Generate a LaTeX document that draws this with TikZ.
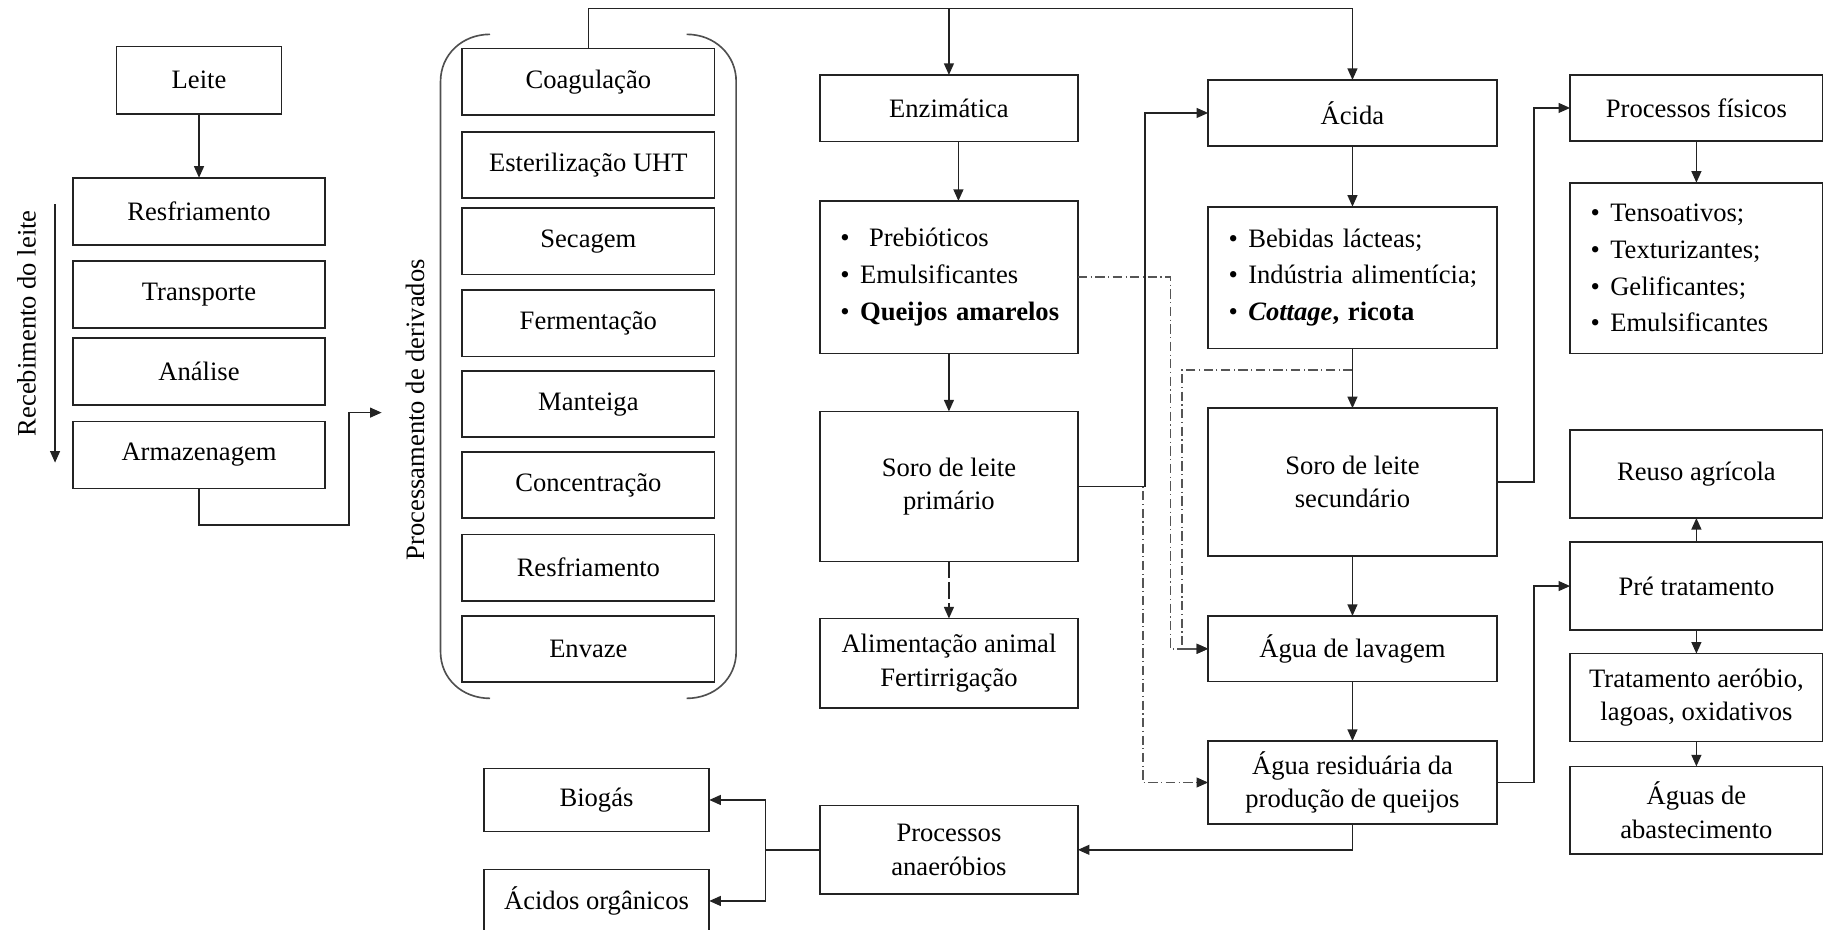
\documentclass[tikz,border=0pt]{standalone}
\usepackage{fontspec}
\setmainfont{Liberation Serif}
\usetikzlibrary{arrows.meta,positioning}
\definecolor{contorno}{RGB}{35,35,35}
\definecolor{tracocinza}{RGB}{85,85,85}
\newcommand{\marcador}[1]{\mbox{\makebox[0.34cm][l]{\textbullet}#1}}

\begin{document}
\begin{tikzpicture}[
  x=0.02cm, y=-0.02cm,
  font=\fontsize{13}{16.3}\selectfont,
  seta/.style={-{Triangle[length=0.2cm, width=0.17cm]}, line width=0.8pt, draw=contorno},
  setaponto/.style={-{Triangle[length=0.2cm, width=0.17cm, color=contorno]}, draw=tracocinza, line width=0.7pt,
    dash pattern=on 0.16cm off 0.06cm on 0.02cm off 0.06cm},
  tracejada/.style={dash pattern=on 0.28cm off 0.08cm},
  chave/.style={draw=contorno!80, line width=0.8pt},
  caixa/.style={draw=contorno, line width=0.8pt, fill=white, align=center, inner sep=2pt, outer sep=0pt},
  caixaA/.style={caixa, minimum width=4.34cm, minimum height=1.154cm},
  caixaB/.style={caixa, minimum width=4.34cm, minimum height=1.14cm},
  caixaC/.style={caixa, minimum width=4.43cm},
  caixaD/.style={caixa, minimum width=4.96cm},
  caixaE/.style={caixa, minimum width=4.34cm},
  lista/.style={caixa, align=left, font=\fontsize{13}{18}\selectfont, inner xsep=0.35cm}
]
\useasboundingbox (0,0) rectangle (1568,799);
\clip (0,0) rectangle (1568,799);

% recebimento do leite
\node[caixaA, minimum width=2.84cm] (leite) at (171,68.9) {Leite};
\node[caixaA, below=1.1cm of leite] (resfA) {Resfriamento};
\node[caixaA, below=0.276cm of resfA] (transporte) {Transporte};
\node[caixaA, below=0.172cm of transporte] (analise) {Análise};
\node[caixaA, below=0.276cm of analise] (armazenagem) {Armazenagem};
\node[rotate=90] (recebimento) at (22.9,277.8) {Recebimento do leite};
\coordinate (recA) at (47.3,175.6);
\coordinate (recB) at (47.3,397.5);
\coordinate (canto) at (300.1,451.2);
\coordinate (entrada) at (327.9,354.5);

% processamento de derivados
\node[caixaB] (coag) at (505.5,70.25) {Coagulação};
\node[caixaB, below=0.29cm of coag] (uht) {Esterilização UHT};
\node[caixaB, below=0.17cm of uht] (secagem) {Secagem};
\node[caixaB, below=0.27cm of secagem] (fermentacao) {Fermentação};
\node[caixaB, below=0.25cm of fermentacao] (manteiga) {Manteiga};
\node[caixaB, below=0.25cm of manteiga] (concentracao) {Concentração};
\node[caixaB, below=0.28cm of concentracao] (resfB) {Resfriamento};
\node[caixaB, below=0.26cm of resfB] (envaze) {Envaze};
\node[rotate=90] (derivados) at (356.6,352) {Processamento de derivados};

% coagulacao enzimatica
\node[caixaC, minimum height=1.146cm] (enzimatica) at (815.3,93.05) {Enzimática};
\node[lista, minimum width=4.43cm, text width=3.73cm, minimum height=2.618cm, below=1.02cm of enzimatica] (prebio)
  {\marcador{\ Prebióticos}\\\marcador{Emulsificantes}\\\marcador{\textbf{Queijos amarelos}}};
\node[caixaC, minimum height=2.578cm, below=1.0cm of prebio] (soroprim) {Soro de leite\\primário};
\node[caixaC, minimum height=1.536cm, below=0.98cm of soroprim] (alimentacao) {Alimentação animal\\Fertirrigação};
\node[caixaC, minimum height=1.518cm, below=1.68cm of alimentacao] (anaerobios) {Processos\\anaeróbios};

% coagulacao acida
\node[caixaD, minimum height=1.134cm] (acida) at (1162,97.05) {Ácida};
\node[lista, minimum width=4.96cm, text width=4.26cm, minimum height=2.434cm, below=1.044cm of acida] (bebidas)
  {\marcador{Bebidas lácteas;}\\\marcador{Indústria alimentícia;}\\\marcador{\textbf{\textit{Cottage}, ricota}}};
\node[caixaD, minimum height=2.538cm, below=1.03cm of bebidas] (sorosec) {Soro de leite\\secundário};
\node[caixaD, minimum height=1.128cm, below=1.032cm of sorosec] (lavagem) {Água de lavagem};
\node[caixaD, minimum height=1.428cm, below=1.02cm of lavagem] (residuaria) {Água residuária da\\produção de queijos};

% destinos
\node[caixaE, minimum height=1.134cm] (fisicos) at (1457.5,92.75) {Processos físicos};
\node[lista, minimum width=4.34cm, text width=3.64cm, minimum height=2.932cm, below=0.718cm of fisicos] (tenso)
  {\marcador{Tensoativos;}\\\marcador{Texturizantes;}\\\marcador{Gelificantes;}\\\marcador{Emulsificantes}};
\node[caixaE, minimum height=1.51cm, below=1.32cm of tenso] (reuso) {Reuso agrícola};
\node[caixaE, minimum height=1.512cm, below=0.414cm of reuso] (pre) {Pré tratamento};
\node[caixaE, minimum height=1.51cm, below=0.406cm of pre] (tratamento) {Tratamento aeróbio,\\lagoas, oxidativos};
\node[caixaE, minimum height=1.51cm, below=0.428cm of tratamento] (aguas) {Águas de\\abastecimento};

\node[caixa, minimum width=3.874cm, minimum height=1.088cm] (biogas) at (512.5,687.3) {Biogás};
\node[caixa, minimum width=3.874cm, minimum height=1.088cm, below=0.648cm of biogas] (acidos) {Ácidos orgânicos};

\coordinate (topo) at (815.3,7.2);
\coordinate (desvio) at (1162,318);

% chaves
\draw[chave] (421,29.5) .. controls (397,29.5) and (378.5,47) .. (378.5,70) -- (378.5,560)
  .. controls (378.5,583) and (397,600) .. (421,600);
\draw[chave] (590,29.5) .. controls (614,29.5) and (632.5,47) .. (632.5,70) -- (632.5,560)
  .. controls (632.5,583) and (614,600) .. (590,600);

\draw[seta] (leite) -- (resfA);
\draw[seta] (recA) -- (recB);
\draw[seta] (armazenagem.south) |- (canto) |- (entrada);

\draw[seta] (coag.north) |- (topo) -| (acida.north);
\draw[seta] (topo) -- (enzimatica.north);
\draw[seta] ([xshift=0.163cm]enzimatica.south) -- ([xshift=0.163cm]prebio.north);
\draw[seta] (prebio) -- (soroprim);
\draw[seta, tracejada] (soroprim) -- (alimentacao);

\draw[setaponto] (prebio.east) -- ++(79.5,0) |- (lavagem.west);
\draw[setaponto] (desvio) -- ++(-146.5,0) |- (lavagem.west);
\draw[setaponto] (soroprim.east) -- ++(56,0) |- (residuaria.west);
\draw[seta] (soroprim.east) -- ++(57.7,0) |- (acida.west);

\draw[seta] (acida) -- (bebidas);
\draw[seta] (bebidas) -- (sorosec);
\draw[seta] (sorosec) -- (lavagem);
\draw[seta] (lavagem) -- (residuaria);

\draw[seta] (sorosec.east) -- ++(32,0) |- (fisicos.west);
\draw[seta] (fisicos) -- (tenso);
\draw[seta] (residuaria.east) -- ++(32,0) |- (pre.west);
\draw[seta] (pre) -- (reuso);
\draw[seta] (pre) -- (tratamento);
\draw[seta] (tratamento) -- (aguas);

\draw[seta] (residuaria.south) |- (anaerobios.east);
\draw[seta] (anaerobios.west) -- ++(-47,0) |- (biogas.east);
\draw[seta] (anaerobios.west) -- ++(-47,0) |- (acidos.east);

\end{tikzpicture}
\end{document}
